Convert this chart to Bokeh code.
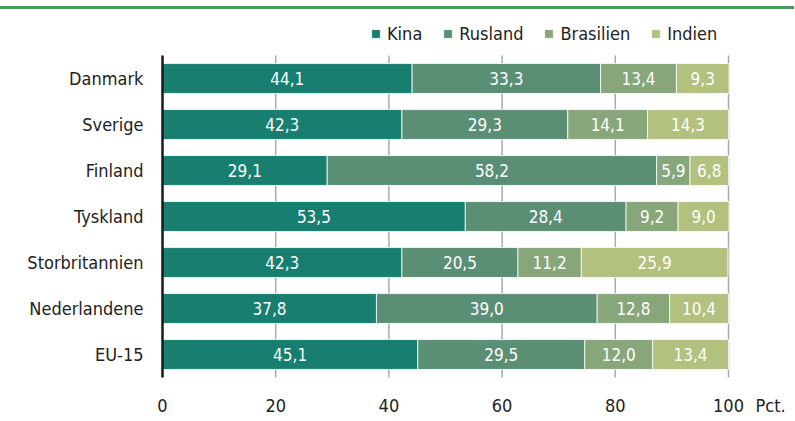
from bokeh.plotting import figure
from bokeh.models import ColumnDataSource, Range1d, Legend, LegendItem
from bokeh.embed import file_html
from bokeh.resources import INLINE
from bokeh.core.properties import value

countries = ["Danmark", "Sverige", "Finland", "Tyskland", "Storbritannien", "Nederlandene", "EU-15"]
kina = [44.1, 42.3, 29.1, 53.5, 42.3, 37.8, 45.1]
rusland = [33.3, 29.3, 58.2, 28.4, 20.5, 39.0, 29.5]
brasilien = [13.4, 14.1, 5.9, 9.2, 11.2, 12.8, 12.0]
indien = [9.3, 14.3, 6.8, 9.0, 25.9, 10.4, 13.4]
series = ["Kina", "Rusland", "Brasilien", "Indien"]
colors = ["#177e70", "#5a8f76", "#87a77a", "#b3c17e"]
x_ticks = [0, 20, 40, 60, 80, 100]
unit_label = "Pct."

FONT = "DejaVu Sans Condensed"
TXT = "#222222"

n = len(countries)
y_pos = [n - i - 0.5 for i in range(n)]

data = {"y": y_pos, "country": countries}
for name, vals in zip(series, [kina, rusland, brasilien, indien]):
    data[name] = vals
src = ColumnDataSource(data)

# layout geometry (pixels)
H = 410
W = 794
LEFT = 150          # frame left edge
X0_PX = 162         # where value 0 sits
X100_PX = 728       # where value 100 sits
PX = (X100_PX - X0_PX) / 100.0
x_lo = -(X0_PX - LEFT) / PX
x_hi = 100 + (W - X100_PX) / PX

p = figure(width=W, height=H, x_range=Range1d(x_lo, x_hi), y_range=Range1d(8 - H / 46.0, 8),
           x_axis_location=None, output_backend="svg", toolbar_location=None,
           min_border_left=LEFT, min_border_right=0, min_border_top=0, min_border_bottom=0)
p.margin = (6, 0, 0, 0)
p.styles = {"border-top": "3px solid #4a9b55"}
p.xgrid.visible = False
p.ygrid.visible = False
p.outline_line_color = None

# vertical grid lines over the bar area
gx = x_ticks[1:]
p.segment(x0=gx, x1=gx, y0=[0] * len(gx), y1=[n] * len(gx),
          line_color="#aaaaaa", line_width=1.5)

rs = p.hbar_stack(series, y="y", height=0.65, color=colors, source=src,
                  line_color="white", line_width=0.8)

# y axis line at zero
p.segment(x0=[0], x1=[0], y0=[0], y1=[n], line_color="#1a1a1a", line_width=2.5)

# value labels
tx, ty, tt = [], [], []
for i in range(n):
    start = 0.0
    for vals in [kina, rusland, brasilien, indien]:
        v = vals[i]
        tx.append(start + v / 2)
        ty.append(y_pos[i])
        tt.append(f"{v:.1f}".replace(".", ","))
        start += v
p.text(x=tx, y=ty, text=tt, text_color="white", text_align="center",
       text_baseline="middle", text_font=value(FONT), text_font_size="17px")

# x tick labels and unit
p.text(x=x_ticks, y=[-0.6] * len(x_ticks), text=[str(t) for t in x_ticks],
       text_color=TXT, text_align="center", text_baseline="middle",
       text_font=value(FONT), text_font_size="18px")
p.text(x=[x_ticks[-1]], y=[-0.6], text=[unit_label], x_offset=27,
       text_color=TXT, text_align="left", text_baseline="middle",
       text_font=value(FONT), text_font_size="18px")

# y axis with country names
p.yaxis.ticker = y_pos
p.yaxis.major_label_overrides = {y: c for y, c in zip(y_pos, countries)}
p.yaxis.axis_line_color = None
p.yaxis.major_tick_line_color = None
p.yaxis.minor_tick_line_color = None
p.yaxis.major_tick_out = 0
p.yaxis.major_tick_in = 0
p.yaxis.major_label_text_font = FONT
p.yaxis.major_label_text_font_size = "18px"
p.yaxis.major_label_text_color = TXT
p.yaxis.major_label_standoff = 7

# legend
lg = Legend(items=[LegendItem(label=s, renderers=[r]) for s, r in zip(series, rs)])
lg.orientation = "horizontal"
lg.location = (220, 375)
lg.padding = 0
lg.margin = 0
lg.spacing = 20
lg.label_standoff = 6
lg.glyph_width = 11
lg.glyph_height = 11
lg.label_height = 18
lg.label_text_font = FONT
lg.label_text_font_size = "18px"
lg.label_text_color = TXT
lg.border_line_color = None
lg.background_fill_alpha = 0
p.add_layout(lg)

open("out.html", "w").write(file_html(p, INLINE))
